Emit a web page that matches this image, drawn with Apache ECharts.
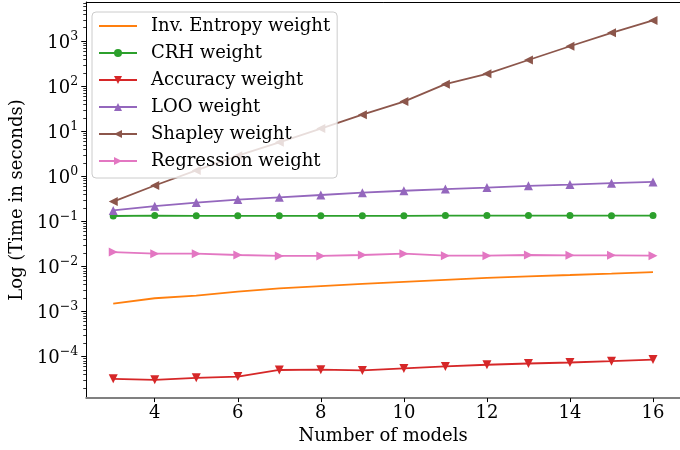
<!DOCTYPE html>
<html>
<head>
<meta charset="utf-8">
<script src="https://cdn.jsdelivr.net/npm/echarts@6/dist/echarts.min.js"></script>
<style>
  html, body { margin: 0; padding: 0; background: #fff; }
  #chart { width: 680px; height: 450px; }
</style>
</head>
<body>
<div id="chart"></div>
<script>
// number of models on the x axis
var models = [3, 4, 5, 6, 7, 8, 9, 10, 11, 12, 13, 14, 15, 16];

// time in seconds
var invEntropy = [0.00148, 0.00194, 0.00221, 0.00271, 0.00321, 0.00361, 0.00405, 0.00448, 0.00495, 0.00547, 0.00596, 0.00637, 0.00682, 0.0074];
var crh = [0.130, 0.133, 0.131, 0.131, 0.131, 0.131, 0.131, 0.131, 0.133, 0.133, 0.133, 0.133, 0.132, 0.133];
var accuracy = [3.15e-5, 2.99e-5, 3.31e-5, 3.53e-5, 4.95e-5, 5.02e-5, 4.85e-5, 5.36e-5, 5.93e-5, 6.46e-5, 6.90e-5, 7.25e-5, 7.78e-5, 8.43e-5];
var loo = [0.173, 0.215, 0.259, 0.301, 0.338, 0.381, 0.428, 0.473, 0.515, 0.558, 0.608, 0.650, 0.697, 0.743];
var shapley = [0.272, 0.618, 1.34, 2.84, 5.64, 11.4, 23.1, 45.2, 110, 187, 379, 766, 1525, 2875];
var regression = [0.0206, 0.0189, 0.0189, 0.0177, 0.0169, 0.0169, 0.0177, 0.0189, 0.0171, 0.0171, 0.0177, 0.0174, 0.0174, 0.0171];

var seriesNames = ['Inv. Entropy weight', 'CRH weight', 'Accuracy weight', 'LOO weight', 'Shapley weight', 'Regression weight'];

// decades that get a label on the y axis
var yDecades = [-4, -3, -2, -1, 0, 1, 2, 3];

var X_MIN = 2.35, X_MAX = 16.65;
var Y_MIN = 1.175e-5, Y_MAX = 7360;
var FONT = 'DejaVu Serif';

function pairs(vals) {
  var out = [];
  for (var i = 0; i < models.length; i++) out.push([models[i], vals[i]]);
  return out;
}

// major + minor tick marks for the log axis (matplotlib style)
var yTicks = [];
for (var d = -5; d <= 3; d++) {
  for (var m = 1; m <= 9; m++) {
    var v = m * Math.pow(10, d);
    if (v >= Y_MIN && v <= Y_MAX) yTicks.push([X_MIN, v, m === 1 ? 1 : 0]);
  }
}

function supText(e) {
  return String(e).replace('-', '\u2212');
}

function lineSeries(name, vals, color, symbol, rotate, size) {
  return {
    name: name,
    type: 'line',
    data: pairs(vals),
    showSymbol: symbol !== 'none',
    symbol: symbol,
    symbolRotate: rotate,
    symbolSize: size,
    lineStyle: { color: color, width: 1.8 },
    itemStyle: { color: color },
    emphasis: { disabled: true }
  };
}

var legendData = seriesNames.map(function (n, i) {
  // the first entry is a plain line, no marker
  return i === 0 ? { name: n, itemStyle: { opacity: 0 } } : { name: n };
});

var chart = echarts.init(document.getElementById('chart'));
var option = {
  animation: false,
  backgroundColor: '#fff',
  grid: { left: 82, top: 2, width: 608, height: 402 },
  legend: {
    data: legendData,
    orient: 'vertical',
    left: 92,
    top: 12,
    padding: [5, 7, 8, 6],
    itemWidth: 38,
    itemHeight: 10,
    itemGap: 9,
    backgroundColor: 'rgba(255,255,255,0.8)',
    borderColor: '#cccccc',
    borderWidth: 1,
    borderRadius: 4,
    textStyle: { fontFamily: FONT, fontSize: 18, color: '#000', padding: [0, 0, 0, 9] }
  },
  xAxis: [{
    type: 'value',
    min: X_MIN,
    max: X_MAX,
    splitNumber: 7,
    name: 'Number of models',
    nameLocation: 'middle',
    nameGap: 24,
    nameTextStyle: { fontFamily: FONT, fontSize: 18, color: '#000' },
    axisLine: { show: true, lineStyle: { color: '#808080', width: 2 } },
    axisTick: { show: true, length: 4, lineStyle: { color: '#000' } },
    axisLabel: {
      fontFamily: FONT, fontSize: 18, color: '#000', margin: 6,
      showMinLabel: false, showMaxLabel: false,
      formatter: function (v) { return Math.abs(v - Math.round(v)) < 1e-6 ? String(Math.round(v)) : ''; }
    },
    splitLine: { show: false }
  }, {
    type: 'value',
    position: 'top',
    min: X_MIN,
    max: X_MAX,
    axisLine: { show: true, lineStyle: { color: '#000', width: 1 } },
    axisTick: { show: false },
    axisLabel: { show: false },
    splitLine: { show: false }
  }],
  yAxis: {
    type: 'log',
    logBase: 10,
    min: Y_MIN,
    max: Y_MAX,
    splitNumber: 10,
    name: 'Log (Time in seconds)',
    nameLocation: 'middle',
    nameGap: 54,
    nameTextStyle: { fontFamily: FONT, fontSize: 18, color: '#000' },
    axisLine: { show: true, lineStyle: { color: '#000', width: 1 } },
    axisTick: { show: false },
    axisLabel: {
      margin: 8,
      formatter: function (v) {
        var l = Math.log10(v), e = Math.round(l);
        if (Math.abs(l - e) > 1e-6 || yDecades.indexOf(e) < 0) return '';
        return '{b|10}{s|' + supText(e) + '}';
      },
      rich: {
        b: { fontFamily: FONT, fontSize: 18, color: '#000', lineHeight: 22, verticalAlign: 'bottom' },
        s: { fontFamily: FONT, fontSize: 12.5, color: '#000', lineHeight: 9, verticalAlign: 'top' }
      }
    },
    splitLine: { show: false }
  },
  series: [
    {
      name: 'yticks',
      type: 'custom',
      silent: true,
      clip: false,
      data: yTicks,
      encode: { x: 0, y: 1 },
      renderItem: function (params, api) {
        var p = api.coord([api.value(0), api.value(1)]);
        var len = api.value(2) ? 5 : 3;
        var y = Math.round(p[1]) + 0.5;
        return {
          type: 'line',
          shape: { x1: p[0] - len, y1: y, x2: p[0], y2: y },
          style: { stroke: '#000', lineWidth: api.value(2) ? 1 : 0.8 }
        };
      }
    },
    lineSeries(seriesNames[0], invEntropy, '#ff7f0e', 'none', 0, 0),
    lineSeries(seriesNames[1], crh, '#2ca02c', 'circle', 0, 7),
    lineSeries(seriesNames[2], accuracy, '#d62728', 'triangle', 180, 9),
    lineSeries(seriesNames[3], loo, '#9467bd', 'triangle', 0, 9),
    lineSeries(seriesNames[4], shapley, '#8c564b', 'triangle', 90, 9),
    lineSeries(seriesNames[5], regression, '#e377c2', 'triangle', -90, 9)
  ]
};
chart.setOption(option);
</script>
</body>
</html>
